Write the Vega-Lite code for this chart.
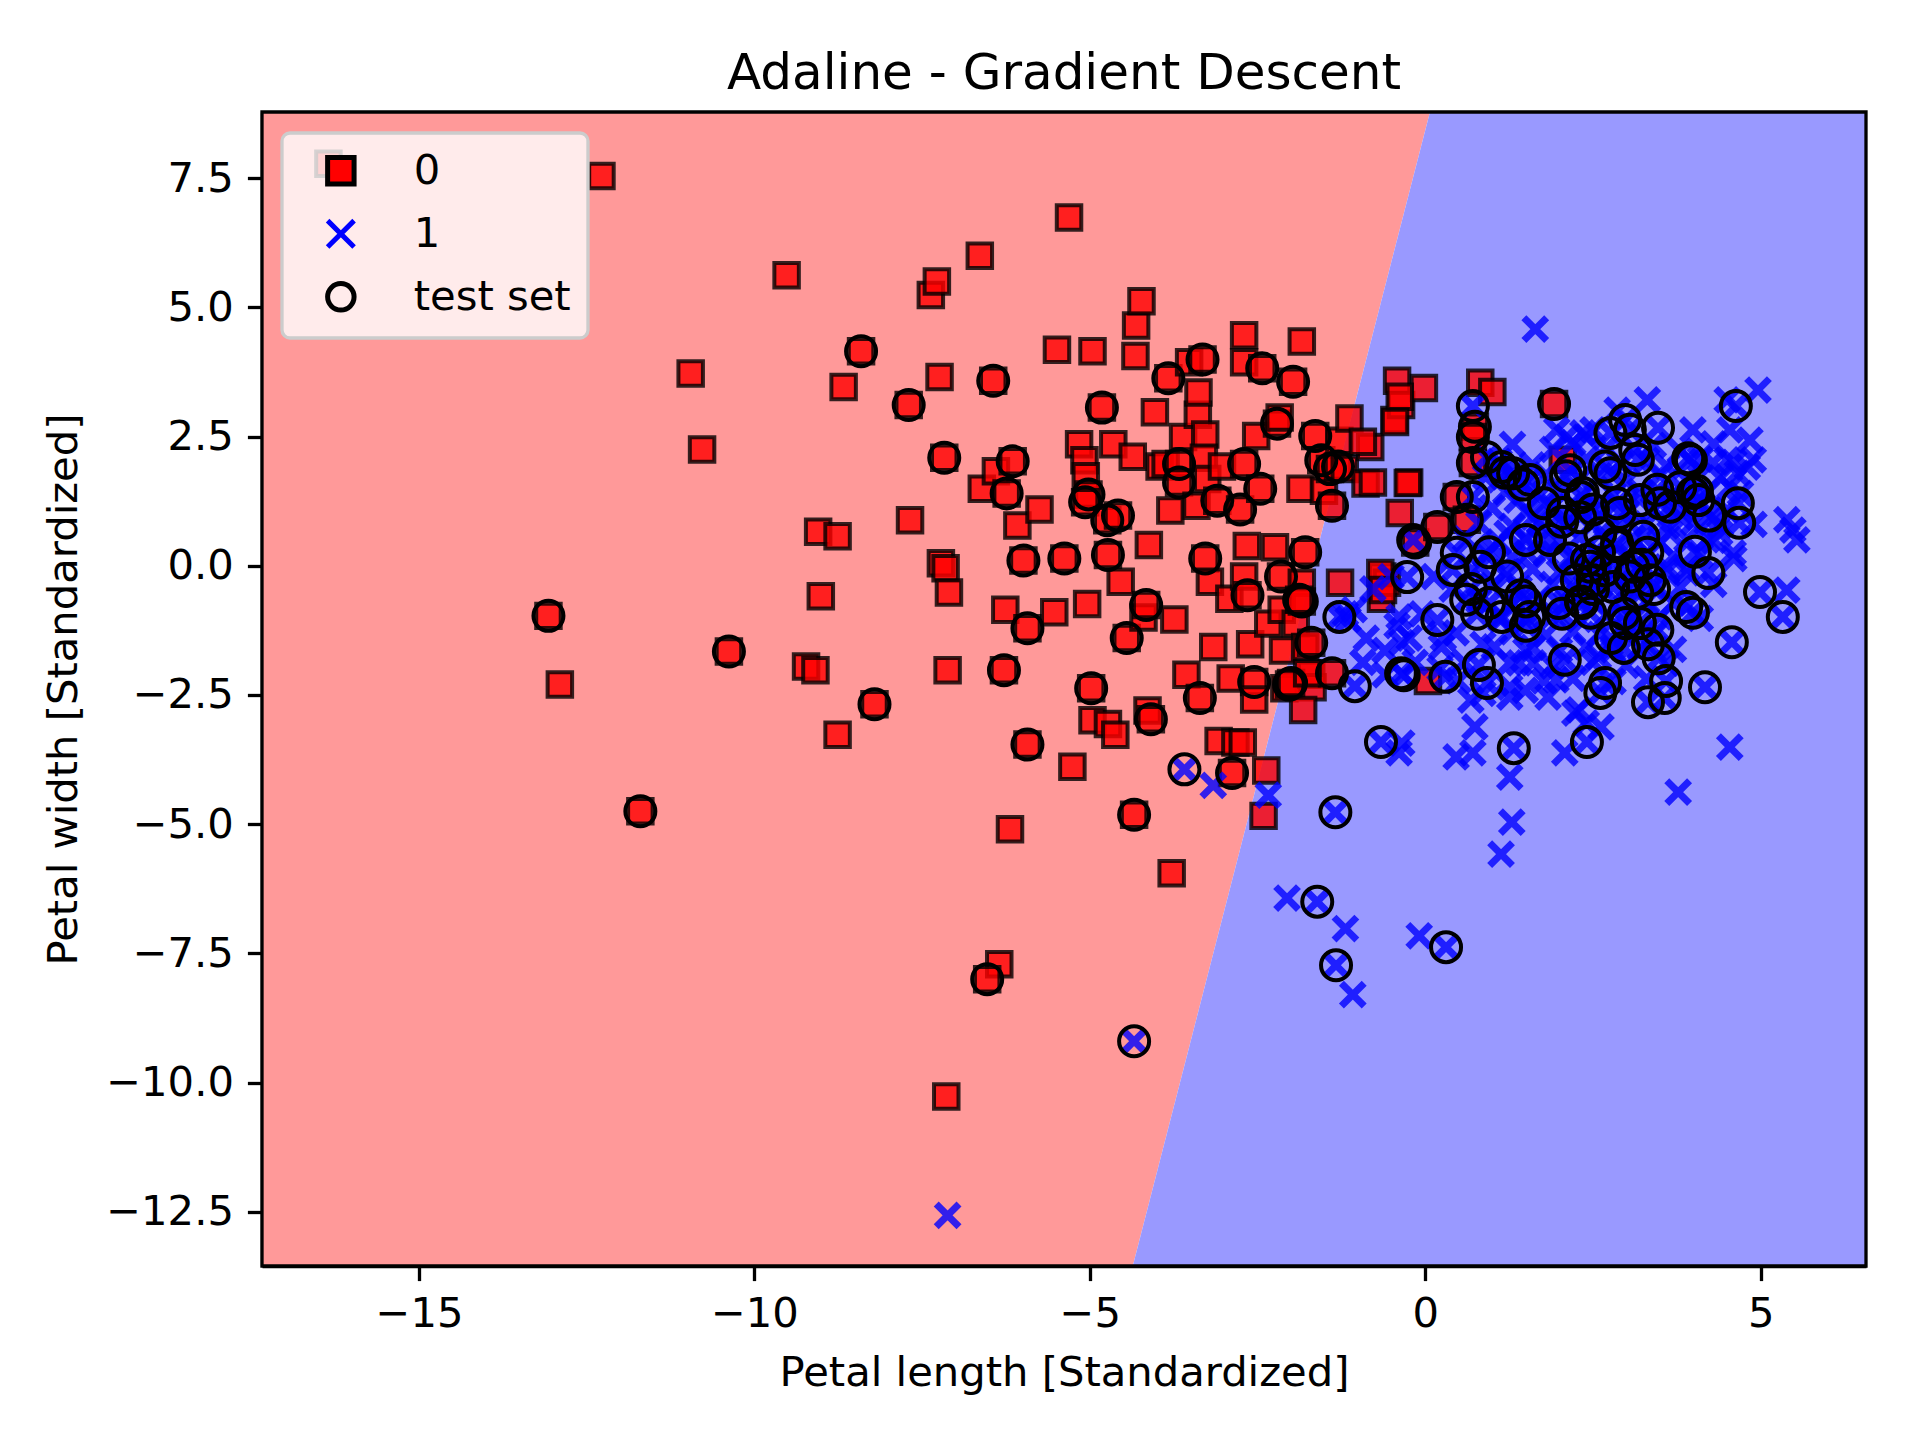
{
  "$schema": "https://vega.github.io/schema/vega-lite/v6.json",
  "width": 1604,
  "height": 1154,
  "autosize": {"type": "none"},
  "padding": {"left": 262, "top": 112, "right": 54, "bottom": 174},
  "background": "white",
  "title": {"text": "Adaline - Gradient Descent", "font": "DejaVu Sans", "fontSize": 50, "fontWeight": "normal", "color": "black", "anchor": "middle", "offset": 11},
  "config": {
    "view": {"stroke": null},
    "axis": {"domainColor": "black", "domainWidth": 3.3, "tickColor": "black", "tickWidth": 3.3, "tickSize": 14.6, "labelFont": "DejaVu Sans", "labelFontSize": 41.7, "labelColor": "black", "titleFont": "DejaVu Sans", "titleFontSize": 41.7, "titleFontWeight": "normal", "titleColor": "black", "grid": false, "zindex": 1},
    "legend": {"orient": "none", "legendX": 20, "legendY": 21, "labelFont": "DejaVu Sans", "labelFontSize": 41.7, "labelColor": "black", "padding": 17, "fillColor": "rgba(255,255,255,0.8)", "strokeColor": "#cccccc", "strokeWidth": 3.3, "cornerRadius": 8, "symbolOffset": 21, "labelOffset": 52, "rowPadding": 15, "symbolSize": 700, "symbolStrokeWidth": 5}
  },
  "datasets": {
    "edge": [{"by": -13.55, "bx": -4.36, "lo": -17.34, "hi": 6.57}, {"by": 8.78, "bx": 0.07, "lo": -17.34, "hi": 6.57}],
    "frame": [{"x0": -17.34, "x1": 6.57, "y0": -13.55, "y1": 8.78}],
    "pts": [
      {"x":-16.35,"y":7.78,"k":"0","t":0},{"x":-12.28,"y":7.54,"k":"0","t":0},{"x":-13.07,"y":-0.97,"k":"0","t":1},{"x":-12.9,"y":-2.3,"k":"0","t":0},
      {"x":-11.7,"y":-4.75,"k":"0","t":1},{"x":-10.95,"y":3.72,"k":"0","t":0},{"x":-10.78,"y":2.25,"k":"0","t":0},{"x":-10.38,"y":-1.66,"k":"0","t":1},
      {"x":-9.52,"y":5.62,"k":"0","t":0},{"x":-9.05,"y":0.66,"k":"0","t":0},{"x":-8.76,"y":0.57,"k":"0","t":0},{"x":-9.01,"y":-0.59,"k":"0","t":0},
      {"x":-9.23,"y":-1.95,"k":"0","t":0},{"x":-9.09,"y":-2.02,"k":"0","t":0},{"x":-8.76,"y":-3.27,"k":"0","t":0},{"x":-8.67,"y":3.46,"k":"0","t":0},
      {"x":-8.41,"y":4.15,"k":"0","t":1},{"x":-8.21,"y":-2.68,"k":"0","t":1},{"x":-7.7,"y":3.11,"k":"0","t":1},{"x":-7.68,"y":0.88,"k":"0","t":0},
      {"x":-7.37,"y":5.24,"k":"0","t":0},{"x":-7.28,"y":5.5,"k":"0","t":0},{"x":-7.24,"y":3.65,"k":"0","t":0},{"x":-7.17,"y":2.09,"k":"0","t":1},
      {"x":-7.22,"y":0.05,"k":"0","t":0},{"x":-7.15,"y":-0.05,"k":"0","t":0},{"x":-7.1,"y":-0.52,"k":"0","t":0},{"x":-7.12,"y":-2.02,"k":"0","t":0},
      {"x":-7.14,"y":-10.27,"k":"0","t":0},{"x":-6.64,"y":6.0,"k":"0","t":0},{"x":-6.44,"y":3.58,"k":"0","t":1},{"x":-6.61,"y":1.49,"k":"0","t":0},
      {"x":-6.4,"y":1.83,"k":"0","t":0},{"x":-6.24,"y":1.4,"k":"0","t":1},{"x":-6.15,"y":2.02,"k":"0","t":1},{"x":-6.08,"y":0.78,"k":"0","t":0},
      {"x":-5.99,"y":0.1,"k":"0","t":1},{"x":-6.26,"y":-0.85,"k":"0","t":0},{"x":-5.93,"y":-1.21,"k":"0","t":1},{"x":-6.28,"y":-2.02,"k":"0","t":1},
      {"x":-5.93,"y":-3.46,"k":"0","t":1},{"x":-6.19,"y":-5.1,"k":"0","t":0},{"x":-6.35,"y":-7.71,"k":"0","t":0},{"x":-6.53,"y":-8.0,"k":"0","t":1},
      {"x":-5.75,"y":1.09,"k":"0","t":0},{"x":-5.53,"y":-0.9,"k":"0","t":0},{"x":-5.38,"y":0.14,"k":"0","t":1},{"x":-5.31,"y":6.74,"k":"0","t":0},
      {"x":-5.49,"y":4.18,"k":"0","t":0},{"x":-5.26,"y":-3.89,"k":"0","t":0},{"x":-5.04,"y":-0.74,"k":"0","t":0},{"x":-4.96,"y":4.15,"k":"0","t":0},
      {"x":-4.98,"y":-2.37,"k":"0","t":1},{"x":-4.96,"y":-2.99,"k":"0","t":0},{"x":-5.16,"y":2.35,"k":"0","t":0},{"x":-5.08,"y":2.04,"k":"0","t":0},
      {"x":-5.06,"y":1.73,"k":"0","t":0},{"x":-5.02,"y":1.38,"k":"0","t":1},{"x":-5.07,"y":1.23,"k":"0","t":1},{"x":-4.82,"y":3.06,"k":"0","t":1},
      {"x":-4.74,"y":0.88,"k":"0","t":1},{"x":-4.73,"y":0.21,"k":"0","t":1},{"x":-4.65,"y":2.35,"k":"0","t":0},{"x":-4.58,"y":0.97,"k":"0","t":1},
      {"x":-4.54,"y":-0.31,"k":"0","t":0},{"x":-4.45,"y":-1.4,"k":"0","t":1},{"x":-4.73,"y":-3.06,"k":"0","t":0},{"x":-4.62,"y":-3.27,"k":"0","t":0},
      {"x":-4.34,"y":-4.82,"k":"0","t":1},{"x":-4.36,"y":2.11,"k":"0","t":0},{"x":-4.32,"y":4.06,"k":"0","t":0},{"x":-4.31,"y":4.65,"k":"0","t":0},
      {"x":-4.23,"y":5.12,"k":"0","t":0},{"x":-4.12,"y":0.4,"k":"0","t":0},{"x":-4.2,"y":-1.0,"k":"0","t":0},{"x":-4.16,"y":-0.76,"k":"0","t":1},
      {"x":-4.14,"y":-2.8,"k":"0","t":0},{"x":-4.09,"y":-2.97,"k":"0","t":1},{"x":-4.03,"y":2.97,"k":"0","t":0},{"x":-3.96,"y":1.92,"k":"0","t":0},
      {"x":-3.87,"y":1.97,"k":"0","t":0},{"x":-3.83,"y":3.63,"k":"0","t":1},{"x":-3.78,"y":-5.95,"k":"0","t":0},{"x":-3.8,"y":1.07,"k":"0","t":0},
      {"x":-3.74,"y":-1.04,"k":"0","t":0},{"x":-3.67,"y":1.97,"k":"0","t":1},{"x":-3.67,"y":1.61,"k":"0","t":1},{"x":-3.61,"y":2.49,"k":"0","t":0},
      {"x":-3.56,"y":-2.11,"k":"0","t":0},{"x":-3.52,"y":3.94,"k":"0","t":0},{"x":-3.41,"y":1.16,"k":"0","t":0},{"x":-3.36,"y":-2.56,"k":"0","t":1},
      {"x":-3.39,"y":2.92,"k":"0","t":0},{"x":-3.38,"y":3.35,"k":"0","t":0},{"x":-3.32,"y":3.99,"k":"0","t":1},{"x":-3.28,"y":2.54,"k":"0","t":0},
      {"x":-3.3,"y":2.09,"k":"0","t":0},{"x":-3.25,"y":1.68,"k":"0","t":0},{"x":-3.28,"y":0.14,"k":"0","t":1},{"x":-3.21,"y":-0.31,"k":"0","t":0},
      {"x":-3.16,"y":-1.57,"k":"0","t":0},{"x":-3.08,"y":-3.39,"k":"0","t":0},{"x":-3.1,"y":1.26,"k":"0","t":1},{"x":-2.88,"y":-4.01,"k":"0","t":1},
      {"x":-3.03,"y":1.92,"k":"0","t":0},{"x":-2.92,"y":-0.64,"k":"0","t":0},{"x":-2.9,"y":-2.18,"k":"0","t":0},{"x":-2.83,"y":-3.42,"k":"0","t":0},
      {"x":-2.72,"y":-3.42,"k":"0","t":0},{"x":-2.76,"y":1.09,"k":"0","t":1},{"x":-2.7,"y":4.46,"k":"0","t":0},{"x":-2.7,"y":3.94,"k":"0","t":0},
      {"x":-2.7,"y":1.97,"k":"0","t":1},{"x":-2.66,"y":0.38,"k":"0","t":0},{"x":-2.7,"y":-0.21,"k":"0","t":0},{"x":-2.65,"y":-0.57,"k":"0","t":1},
      {"x":-2.61,"y":-1.52,"k":"0","t":0},{"x":-2.55,"y":-2.25,"k":"0","t":1},{"x":-2.55,"y":-2.59,"k":"0","t":0},{"x":-2.52,"y":2.51,"k":"0","t":0},
      {"x":-2.46,"y":1.49,"k":"0","t":1},{"x":-2.43,"y":3.82,"k":"0","t":1},{"x":-2.37,"y":-3.96,"k":"0","t":0},{"x":-2.41,"y":-4.84,"k":"0","t":0},
      {"x":-2.34,"y":-1.12,"k":"0","t":0},{"x":-2.24,"y":0.36,"k":"0","t":0},{"x":-2.21,"y":2.75,"k":"0","t":1},{"x":-2.17,"y":2.87,"k":"0","t":0},
      {"x":-2.15,"y":-0.21,"k":"0","t":1},{"x":-2.14,"y":-0.85,"k":"0","t":0},{"x":-2.12,"y":-1.64,"k":"0","t":0},{"x":-2.1,"y":-2.37,"k":"0","t":0},
      {"x":-2.03,"y":-2.3,"k":"0","t":1},{"x":-1.97,"y":3.56,"k":"0","t":1},{"x":-1.93,"y":-1.12,"k":"0","t":0},{"x":-1.84,"y":4.34,"k":"0","t":0},
      {"x":-1.86,"y":1.49,"k":"0","t":0},{"x":-1.79,"y":0.26,"k":"0","t":1},{"x":-1.84,"y":-0.33,"k":"0","t":0},{"x":-1.84,"y":-0.69,"k":"0","t":1},
      {"x":-1.79,"y":-1.57,"k":"0","t":0},{"x":-1.7,"y":-2.11,"k":"0","t":0},{"x":-1.68,"y":-2.35,"k":"0","t":0},{"x":-1.64,"y":2.51,"k":"0","t":1},
      {"x":-1.55,"y":2.04,"k":"0","t":1},{"x":-1.51,"y":1.45,"k":"0","t":0},{"x":-1.42,"y":1.87,"k":"0","t":1},{"x":-1.3,"y":1.92,"k":"0","t":1},
      {"x":-1.39,"y":1.16,"k":"0","t":1},{"x":-1.28,"y":2.42,"k":"0","t":0},{"x":-1.2,"y":1.87,"k":"0","t":0},{"x":-1.13,"y":2.85,"k":"0","t":0},
      {"x":-0.82,"y":2.3,"k":"0","t":0},{"x":-0.93,"y":2.4,"k":"0","t":0},{"x":-0.89,"y":1.59,"k":"0","t":0},{"x":-0.78,"y":1.61,"k":"0","t":0},
      {"x":-0.64,"y":-0.21,"k":"0","t":0},{"x":-0.66,"y":-0.64,"k":"0","t":0},{"x":-0.57,"y":-0.33,"k":"0","t":0},{"x":-0.46,"y":2.82,"k":"0","t":0},
      {"x":-0.42,"y":3.58,"k":"0","t":0},{"x":-0.36,"y":3.11,"k":"0","t":0},{"x":-0.38,"y":1.02,"k":"0","t":0},{"x":-0.24,"y":1.61,"k":"0","t":0},
      {"x":-0.15,"y":0.45,"k":"0","t":1},{"x":-0.02,"y":3.44,"k":"0","t":0},{"x":0.04,"y":-2.23,"k":"0","t":0},{"x":0.82,"y":3.54,"k":"0","t":0},
      {"x":1.0,"y":3.36,"k":"0","t":0},{"x":0.74,"y":2.69,"k":"0","t":1},{"x":0.71,"y":2.49,"k":"0","t":1},{"x":0.71,"y":1.99,"k":"0","t":1},
      {"x":-0.38,"y":3.27,"k":"0","t":0},{"x":-0.45,"y":2.78,"k":"0","t":0},{"x":-0.26,"y":1.6,"k":"0","t":0},{"x":0.18,"y":0.75,"k":"0","t":1},
      {"x":0.47,"y":1.33,"k":"0","t":1},{"x":0.62,"y":0.89,"k":"0","t":1},{"x":-1.27,"y":-0.33,"k":"0","t":0},{"x":-0.67,"y":-0.14,"k":"0","t":0},
      {"x":-0.63,"y":-0.47,"k":"0","t":0},{"x":2.05,"y":2.05,"k":"0","t":0},{"x":1.92,"y":3.13,"k":"0","t":1},{"x":-1.88,"y":-0.66,"k":"0","t":1},
      {"x":-1.7,"y":-1.49,"k":"0","t":1},{"x":-1.39,"y":-2.08,"k":"0","t":1},{"x":-2.0,"y":-2.27,"k":"0","t":1},{"x":-1.82,"y":-2.79,"k":"0","t":0},
      {"x":-1.76,"y":-2.08,"k":"0","t":0},

      {"x":-7.12,"y":-12.57,"k":"1","t":0},{"x":-4.34,"y":-9.2,"k":"1","t":1},{"x":-3.59,"y":-3.94,"k":"1","t":1},{"x":-3.16,"y":-4.25,"k":"1","t":0},
      {"x":-2.34,"y":-4.44,"k":"1","t":0},{"x":-2.06,"y":-6.43,"k":"1","t":0},{"x":-1.61,"y":-6.5,"k":"1","t":1},{"x":-1.19,"y":-7.02,"k":"1","t":0},
      {"x":-1.33,"y":-7.73,"k":"1","t":1},{"x":-1.08,"y":-8.3,"k":"1","t":0},{"x":-0.09,"y":-7.16,"k":"1","t":0},{"x":0.31,"y":-7.38,"k":"1","t":1},
      {"x":-1.34,"y":-4.77,"k":"1","t":1},{"x":-0.66,"y":-3.41,"k":"1","t":1},{"x":-0.39,"y":-3.62,"k":"1","t":0},{"x":-0.35,"y":-3.43,"k":"1","t":0},
      {"x":0.46,"y":-3.7,"k":"1","t":0},{"x":0.71,"y":-3.62,"k":"1","t":0},{"x":0.74,"y":-3.12,"k":"1","t":0},{"x":1.32,"y":-3.53,"k":"1","t":1},
      {"x":1.26,"y":-4.09,"k":"1","t":0},{"x":1.29,"y":-4.96,"k":"1","t":0},{"x":1.13,"y":-5.58,"k":"1","t":0},{"x":2.08,"y":-3.62,"k":"1","t":0},
      {"x":2.41,"y":-3.41,"k":"1","t":1},{"x":2.4,"y":-3.04,"k":"1","t":0},{"x":2.62,"y":-3.12,"k":"1","t":0},{"x":2.23,"y":-2.85,"k":"1","t":0},
      {"x":3.77,"y":-4.38,"k":"1","t":0},{"x":4.54,"y":-3.51,"k":"1","t":0},{"x":1.64,"y":4.58,"k":"1","t":0},{"x":4.96,"y":3.4,"k":"1","t":0},
      {"x":4.63,"y":3.09,"k":"1","t":1},{"x":4.5,"y":3.21,"k":"1","t":0},{"x":4.54,"y":2.63,"k":"1","t":0},{"x":3.31,"y":3.21,"k":"1","t":0},
      {"x":2.98,"y":2.82,"k":"1","t":1},{"x":2.76,"y":2.57,"k":"1","t":1},{"x":3.47,"y":2.67,"k":"1","t":1},{"x":2.86,"y":3.01,"k":"1","t":0},
      {"x":3.99,"y":2.63,"k":"1","t":0},{"x":2.41,"y":2.49,"k":"1","t":0},{"x":4.84,"y":2.43,"k":"1","t":0},{"x":4.89,"y":2.05,"k":"1","t":0},
      {"x":4.5,"y":2.05,"k":"1","t":0},{"x":3.92,"y":2.08,"k":"1","t":1},{"x":4.29,"y":1.99,"k":"1","t":0},{"x":4.65,"y":1.79,"k":"1","t":0},
      {"x":4.54,"y":1.52,"k":"1","t":0},{"x":4.8,"y":1.91,"k":"1","t":0},{"x":3.13,"y":2.24,"k":"1","t":1},{"x":3.17,"y":2.05,"k":"1","t":1},
      {"x":2.76,"y":1.79,"k":"1","t":1},{"x":3.8,"y":1.52,"k":"1","t":1},{"x":3.99,"y":1.41,"k":"1","t":1},{"x":4.07,"y":1.27,"k":"1","t":1},
      {"x":4.66,"y":1.21,"k":"1","t":1},{"x":4.68,"y":0.83,"k":"1","t":1},{"x":5.48,"y":0.69,"k":"1","t":0},{"x":5.39,"y":0.89,"k":"1","t":0},
      {"x":5.54,"y":0.5,"k":"1","t":0},{"x":4.02,"y":0.27,"k":"1","t":1},{"x":4.22,"y":-0.14,"k":"1","t":1},{"x":4.99,"y":-0.51,"k":"1","t":1},
      {"x":5.39,"y":-0.47,"k":"1","t":0},{"x":4.39,"y":0.63,"k":"1","t":0},{"x":4.59,"y":0.25,"k":"1","t":0},{"x":4.29,"y":0.94,"k":"1","t":0},
      {"x":4.2,"y":0.5,"k":"1","t":0},{"x":3.8,"y":0.94,"k":"1","t":0},{"x":3.65,"y":0.63,"k":"1","t":0},{"x":3.6,"y":-0.02,"k":"1","t":0},
      {"x":3.9,"y":-0.14,"k":"1","t":0},{"x":3.2,"y":1.27,"k":"1","t":1},{"x":3.46,"y":1.47,"k":"1","t":1},{"x":3.65,"y":1.14,"k":"1","t":1},
      {"x":2.9,"y":1.02,"k":"1","t":1},{"x":2.61,"y":0.63,"k":"1","t":1},{"x":2.86,"y":0.44,"k":"1","t":1},{"x":3.25,"y":0.56,"k":"1","t":1},
      {"x":3.31,"y":0.25,"k":"1","t":1},{"x":2.41,"y":0.11,"k":"1","t":1},{"x":3.1,"y":-0.02,"k":"1","t":1},{"x":3.35,"y":-0.28,"k":"1","t":1},
      {"x":2.8,"y":-0.41,"k":"1","t":1},{"x":3.16,"y":-0.53,"k":"1","t":1},{"x":2.5,"y":-0.28,"k":"1","t":1},
      {"x":1.96,"y":2.63,"k":"1","t":0},{"x":2.11,"y":2.49,"k":"1","t":0},{"x":2.35,"y":2.57,"k":"1","t":0},{"x":2.5,"y":2.63,"k":"1","t":0},
      {"x":1.11,"y":1.66,"k":"1","t":0},{"x":1.37,"y":1.27,"k":"1","t":0},{"x":1.61,"y":0.94,"k":"1","t":0},{"x":1.22,"y":0.63,"k":"1","t":0},
      {"x":1.01,"y":0.36,"k":"1","t":0},{"x":1.52,"y":0.25,"k":"1","t":0},{"x":1.71,"y":0.5,"k":"1","t":0},
      {"x":0.71,"y":3.09,"k":"1","t":1},{"x":0.92,"y":2.1,"k":"1","t":1},{"x":1.14,"y":1.91,"k":"1","t":1},{"x":1.31,"y":1.79,"k":"1","t":1},
      {"x":1.56,"y":1.66,"k":"1","t":1},{"x":-0.18,"y":0.5,"k":"1","t":1},{"x":0.71,"y":1.33,"k":"1","t":1},{"x":0.47,"y":0.25,"k":"1","t":1},
      {"x":0.41,"y":-0.08,"k":"1","t":1},{"x":0.82,"y":-0.02,"k":"1","t":1},{"x":-0.27,"y":-0.22,"k":"1","t":1},{"x":2.16,"y":1.85,"k":"1","t":1},
      {"x":2.35,"y":1.41,"k":"1","t":1},{"x":2.05,"y":1.02,"k":"1","t":1},{"x":2.31,"y":0.94,"k":"1","t":1},{"x":2.46,"y":-0.02,"k":"1","t":1},
      {"x":2.26,"y":-0.28,"k":"1","t":1},
      {"x":-1.28,"y":-0.99,"k":"1","t":1},{"x":0.18,"y":-1.05,"k":"1","t":1},{"x":0.61,"y":-0.66,"k":"1","t":1},{"x":0.95,"y":-0.72,"k":"1","t":1},
      {"x":1.14,"y":-0.99,"k":"1","t":1},{"x":1.43,"y":-0.57,"k":"1","t":1},{"x":1.55,"y":-0.99,"k":"1","t":1},{"x":1.99,"y":-0.72,"k":"1","t":1},
      {"x":2.34,"y":-0.72,"k":"1","t":1},{"x":2.46,"y":-0.91,"k":"1","t":1},{"x":2.99,"y":-1.11,"k":"1","t":1},{"x":3.2,"y":-1.11,"k":"1","t":1},
      {"x":3.46,"y":-1.24,"k":"1","t":1},{"x":2.96,"y":-1.59,"k":"1","t":1},{"x":3.48,"y":-1.79,"k":"1","t":1},{"x":3.89,"y":-0.8,"k":"1","t":1},
      {"x":3.99,"y":-0.91,"k":"1","t":1},{"x":5.33,"y":-0.99,"k":"1","t":1},{"x":4.57,"y":-1.48,"k":"1","t":1},{"x":4.17,"y":-2.35,"k":"1","t":1},
      {"x":3.57,"y":-2.56,"k":"1","t":1},{"x":3.32,"y":-2.64,"k":"1","t":1},{"x":2.68,"y":-2.27,"k":"1","t":1},{"x":2.61,"y":-2.46,"k":"1","t":1},
      {"x":2.08,"y":-1.82,"k":"1","t":1},{"x":0.92,"y":-2.27,"k":"1","t":1},{"x":0.8,"y":-1.92,"k":"1","t":1},{"x":0.3,"y":-2.15,"k":"1","t":1},
      {"x":-0.36,"y":-2.08,"k":"1","t":1},{"x":-0.32,"y":-2.12,"k":"1","t":1},{"x":-1.05,"y":-2.33,"k":"1","t":1},
      {"x":-0.39,"y":-0.99,"k":"1","t":0},{"x":-0.35,"y":-1.49,"k":"1","t":0},{"x":0.24,"y":-1.57,"k":"1","t":0},{"x":0.46,"y":-1.3,"k":"1","t":0},
      {"x":1.03,"y":-1.57,"k":"1","t":0},{"x":1.26,"y":-2.54,"k":"1","t":0},{"x":1.49,"y":-2.41,"k":"1","t":0},{"x":1.83,"y":-2.54,"k":"1","t":0},
      {"x":1.95,"y":-2.21,"k":"1","t":0},{"x":2.29,"y":-2.79,"k":"1","t":0},{"x":1.61,"y":-1.88,"k":"1","t":0},{"x":1.26,"y":-1.88,"k":"1","t":0},
      {"x":0.68,"y":-2.6,"k":"1","t":0},{"x":2.58,"y":-1.76,"k":"1","t":0},{"x":2.8,"y":-1.57,"k":"1","t":0},
      {"x":-1.19,"y":-0.93,"k":"1","t":0},{"x":-1.06,"y":-0.85,"k":"1","t":0},{"x":-0.78,"y":-0.45,"k":"1","t":0},{"x":-0.51,"y":-0.21,"k":"1","t":0},
      {"x":-0.42,"y":-1.16,"k":"1","t":0},{"x":-0.24,"y":-1.4,"k":"1","t":0},{"x":-0.05,"y":-0.93,"k":"1","t":0},{"x":-0.6,"y":-1.64,"k":"1","t":0},
      {"x":-0.88,"y":-1.4,"k":"1","t":0},{"x":0.13,"y":-0.21,"k":"1","t":0},{"x":0.4,"y":-0.45,"k":"1","t":0},{"x":0.27,"y":-1.4,"k":"1","t":0},
      {"x":0.58,"y":-1.87,"k":"1","t":0},{"x":0.86,"y":-1.52,"k":"1","t":0},{"x":1.13,"y":-1.04,"k":"1","t":0},{"x":1.5,"y":-1.64,"k":"1","t":0},
      {"x":1.77,"y":-2.23,"k":"1","t":0},{"x":1.26,"y":-2.35,"k":"1","t":0},{"x":0.86,"y":-2.47,"k":"1","t":0},{"x":0.49,"y":-2.23,"k":"1","t":0},
      {"x":0.22,"y":-1.99,"k":"1","t":0},{"x":-0.15,"y":-1.87,"k":"1","t":0},{"x":-0.6,"y":-2.11,"k":"1","t":0},{"x":-0.93,"y":-1.87,"k":"1","t":0},
      {"x":-1.15,"y":-1.04,"k":"1","t":0},
      {"x":1.19,"y":1.8,"k":"1","t":1},{"x":1.46,"y":1.57,"k":"1","t":1},{"x":2.1,"y":1.73,"k":"1","t":1},{"x":2.32,"y":1.33,"k":"1","t":1},
      {"x":1.86,"y":0.5,"k":"1","t":1},{"x":2.14,"y":0.14,"k":"1","t":1},{"x":2.32,"y":-0.69,"k":"1","t":1},{"x":1.5,"y":-0.69,"k":"1","t":1},
      {"x":2.04,"y":-0.93,"k":"1","t":1},{"x":1.22,"y":-0.21,"k":"1","t":1},{"x":1.5,"y":0.5,"k":"1","t":1},{"x":1.77,"y":1.21,"k":"1","t":1},
      {"x":0.95,"y":0.26,"k":"1","t":1},{"x":0.68,"y":-0.45,"k":"1","t":1},{"x":0.77,"y":-0.93,"k":"1","t":1},{"x":1.5,"y":-1.16,"k":"1","t":1},
      {"x":2.04,"y":0.85,"k":"1","t":1},{"x":2.5,"y":1.09,"k":"1","t":1},{"x":2.68,"y":1.92,"k":"1","t":1},{"x":2.86,"y":1.21,"k":"1","t":1},
      {"x":3.05,"y":2.63,"k":"1","t":1},{"x":3.5,"y":1.21,"k":"1","t":1},{"x":3.96,"y":2.04,"k":"1","t":1},{"x":4.05,"y":1.45,"k":"1","t":1},
      {"x":4.23,"y":0.97,"k":"1","t":1},{"x":2.59,"y":0.26,"k":"1","t":1},{"x":2.86,"y":0.38,"k":"1","t":1},{"x":2.68,"y":-0.09,"k":"1","t":1},
      {"x":2.5,"y":-0.45,"k":"1","t":1},{"x":3.05,"y":-0.21,"k":"1","t":1},{"x":3.23,"y":0.02,"k":"1","t":1},{"x":3.41,"y":-0.45,"k":"1","t":1},
      {"x":2.96,"y":-0.93,"k":"1","t":1},{"x":2.77,"y":-1.4,"k":"1","t":1},{"x":3.32,"y":-1.52,"k":"1","t":1},{"x":3.59,"y":-2.23,"k":"1","t":1},
      {"x":1.3,"y":2.35,"k":"1","t":0},{"x":1.9,"y":2.25,"k":"1","t":0},{"x":2.2,"y":2.38,"k":"1","t":0},{"x":2.7,"y":2.28,"k":"1","t":0},
      {"x":3.4,"y":2.33,"k":"1","t":0},{"x":3.8,"y":2.22,"k":"1","t":0},{"x":4.3,"y":2.36,"k":"1","t":0},
      {"x":1.1,"y":2.02,"k":"1","t":0},{"x":1.6,"y":1.95,"k":"1","t":0},{"x":2.4,"y":2.07,"k":"1","t":0},{"x":2.9,"y":1.98,"k":"1","t":0},
      {"x":3.3,"y":2.04,"k":"1","t":0},{"x":3.6,"y":1.93,"k":"1","t":0},{"x":4.1,"y":2.06,"k":"1","t":0},{"x":4.6,"y":2.0,"k":"1","t":0},
      {"x":0.9,"y":1.72,"k":"1","t":0},{"x":1.4,"y":1.65,"k":"1","t":0},{"x":1.8,"y":1.76,"k":"1","t":0},{"x":2.3,"y":1.68,"k":"1","t":0},
      {"x":2.6,"y":1.74,"k":"1","t":0},{"x":3.0,"y":1.63,"k":"1","t":0},{"x":3.5,"y":1.75,"k":"1","t":0},{"x":3.9,"y":1.66,"k":"1","t":0},
      {"x":4.4,"y":1.7,"k":"1","t":0},
      {"x":1.2,"y":1.43,"k":"1","t":0},{"x":1.7,"y":1.36,"k":"1","t":0},{"x":2.0,"y":1.45,"k":"1","t":0},{"x":2.8,"y":1.38,"k":"1","t":0},
      {"x":3.2,"y":1.44,"k":"1","t":0},{"x":3.7,"y":1.35,"k":"1","t":0},{"x":4.2,"y":1.42,"k":"1","t":0},{"x":4.7,"y":1.4,"k":"1","t":0},
      {"x":1.0,"y":1.12,"k":"1","t":0},{"x":1.5,"y":1.05,"k":"1","t":0},{"x":1.9,"y":1.14,"k":"1","t":0},{"x":2.3,"y":1.07,"k":"1","t":0},
      {"x":2.6,"y":1.13,"k":"1","t":0},{"x":3.0,"y":1.04,"k":"1","t":0},{"x":3.4,"y":1.1,"k":"1","t":0},{"x":3.8,"y":1.06,"k":"1","t":0},
      {"x":4.1,"y":1.15,"k":"1","t":0},{"x":4.5,"y":1.08,"k":"1","t":0},
      {"x":0.8,"y":0.82,"k":"1","t":0},{"x":1.3,"y":0.76,"k":"1","t":0},{"x":1.7,"y":0.85,"k":"1","t":0},{"x":2.1,"y":0.78,"k":"1","t":0},
      {"x":2.5,"y":0.83,"k":"1","t":0},{"x":2.9,"y":0.75,"k":"1","t":0},{"x":3.3,"y":0.81,"k":"1","t":0},{"x":3.6,"y":0.77,"k":"1","t":0},
      {"x":4.0,"y":0.84,"k":"1","t":0},{"x":4.4,"y":0.79,"k":"1","t":0},{"x":4.9,"y":0.8,"k":"1","t":0},
      {"x":0.6,"y":0.52,"k":"1","t":0},{"x":1.1,"y":0.46,"k":"1","t":0},{"x":1.5,"y":0.54,"k":"1","t":0},{"x":2.0,"y":0.47,"k":"1","t":0},
      {"x":2.3,"y":0.55,"k":"1","t":0},{"x":2.7,"y":0.48,"k":"1","t":0},{"x":3.1,"y":0.53,"k":"1","t":0},{"x":3.5,"y":0.45,"k":"1","t":0},
      {"x":3.9,"y":0.51,"k":"1","t":0},{"x":4.3,"y":0.49,"k":"1","t":0},
      {"x":0.9,"y":0.22,"k":"1","t":0},{"x":1.3,"y":0.16,"k":"1","t":0},{"x":1.8,"y":0.24,"k":"1","t":0},{"x":2.2,"y":0.17,"k":"1","t":0},
      {"x":2.6,"y":0.21,"k":"1","t":0},{"x":3.0,"y":0.15,"k":"1","t":0},{"x":3.3,"y":0.23,"k":"1","t":0},{"x":3.7,"y":0.18,"k":"1","t":0},
      {"x":4.1,"y":0.2,"k":"1","t":0},{"x":4.6,"y":0.14,"k":"1","t":0},
      {"x":0.7,"y":-0.08,"k":"1","t":0},{"x":1.2,"y":-0.13,"k":"1","t":0},{"x":1.6,"y":-0.06,"k":"1","t":0},{"x":2.0,"y":-0.12,"k":"1","t":0},
      {"x":2.4,"y":-0.07,"k":"1","t":0},{"x":2.8,"y":-0.14,"k":"1","t":0},{"x":3.2,"y":-0.09,"k":"1","t":0},{"x":3.6,"y":-0.11,"k":"1","t":0},
      {"x":3.9,"y":-0.05,"k":"1","t":0},
      {"x":1.0,"y":-0.38,"k":"1","t":0},{"x":1.4,"y":-0.44,"k":"1","t":0},{"x":1.9,"y":-0.36,"k":"1","t":0},{"x":2.2,"y":-0.43,"k":"1","t":0},
      {"x":2.6,"y":-0.37,"k":"1","t":0},{"x":3.0,"y":-0.45,"k":"1","t":0},{"x":3.4,"y":-0.39,"k":"1","t":0},{"x":3.8,"y":-0.42,"k":"1","t":0},
      {"x":4.3,"y":-0.36,"k":"1","t":0},
      {"x":0.8,"y":-0.68,"k":"1","t":0},{"x":1.3,"y":-0.74,"k":"1","t":0},{"x":1.7,"y":-0.66,"k":"1","t":0},{"x":2.1,"y":-0.73,"k":"1","t":0},
      {"x":2.5,"y":-0.67,"k":"1","t":0},{"x":2.9,"y":-0.75,"k":"1","t":0},{"x":3.3,"y":-0.69,"k":"1","t":0},{"x":3.7,"y":-0.72,"k":"1","t":0},
      {"x":1.1,"y":-0.98,"k":"1","t":0},{"x":1.5,"y":-1.05,"k":"1","t":0},{"x":1.9,"y":-0.97,"k":"1","t":0},{"x":2.3,"y":-1.04,"k":"1","t":0},
      {"x":2.7,"y":-0.96,"k":"1","t":0},{"x":3.1,"y":-1.03,"k":"1","t":0},{"x":3.5,"y":-0.99,"k":"1","t":0},{"x":4.1,"y":-1.02,"k":"1","t":0},
      {"x":1.3,"y":-1.28,"k":"1","t":0},{"x":1.8,"y":-1.34,"k":"1","t":0},{"x":2.2,"y":-1.27,"k":"1","t":0},{"x":2.6,"y":-1.33,"k":"1","t":0},
      {"x":3.0,"y":-1.29,"k":"1","t":0},{"x":3.4,"y":-1.35,"k":"1","t":0},
      {"x":1.6,"y":-1.58,"k":"1","t":0},{"x":2.0,"y":-1.64,"k":"1","t":0},{"x":2.4,"y":-1.57,"k":"1","t":0},{"x":2.8,"y":-1.63,"k":"1","t":0},
      {"x":3.2,"y":-1.59,"k":"1","t":0},{"x":3.7,"y":-1.62,"k":"1","t":0},
      {"x":1.4,"y":-1.88,"k":"1","t":0},{"x":1.9,"y":-1.94,"k":"1","t":0},{"x":2.5,"y":-1.87,"k":"1","t":0},{"x":3.0,"y":-1.93,"k":"1","t":0},
      {"x":3.6,"y":-1.89,"k":"1","t":0},
      {"x":2.2,"y":-2.18,"k":"1","t":0},{"x":2.8,"y":-2.24,"k":"1","t":0},{"x":3.3,"y":-2.19,"k":"1","t":0}
    ]
  },
  "layer": [
    {
      "data": {"name": "edge"},
      "mark": {"type": "area", "orient": "horizontal", "color": "#ff9999", "clip": true},
      "encoding": {
        "y": {"field": "by", "type": "quantitative", "scale": {"domain": [-13.55, 8.78], "nice": false, "zero": false},
              "axis": {"title": "Petal width [Standardized]", "values": [7.5, 5, 2.5, 0, -2.5, -5, -7.5, -10, -12.5], "format": ".1f", "labelPadding": 14, "titlePadding": 20}},
        "x": {"field": "lo", "type": "quantitative", "scale": {"domain": [-17.34, 6.57], "nice": false, "zero": false},
              "axis": {"title": "Petal length [Standardized]", "values": [-15, -10, -5, 0, 5], "format": "d", "labelPadding": 13, "titlePadding": 17}},
        "x2": {"field": "bx"}
      }
    },
    {
      "data": {"name": "edge"},
      "mark": {"type": "area", "orient": "horizontal", "color": "#9999ff", "clip": true},
      "encoding": {
        "y": {"field": "by", "type": "quantitative"},
        "x": {"field": "bx", "type": "quantitative"},
        "x2": {"field": "hi"}
      }
    },
    {
      "data": {"name": "pts"},
      "transform": [{"filter": "datum.k == '0'"}],
      "mark": {"type": "point", "filled": true, "size": 600, "strokeWidth": 4, "opacity": 1, "fillOpacity": 0.8, "strokeOpacity": 0.8},
      "encoding": {
        "x": {"field": "x", "type": "quantitative"},
        "y": {"field": "y", "type": "quantitative"},
        "shape": {"field": "k", "type": "nominal", "scale": {"domain": ["0", "1", "test set"], "range": ["square", "M-1,-1L1,1M-1,1L1,-1", "circle"]}, "legend": {"title": null}},
        "fill": {"field": "k", "type": "nominal", "scale": {"domain": ["0", "1", "test set"], "range": ["#ff0000", "transparent", "transparent"]}, "legend": {"title": null}},
        "stroke": {"field": "k", "type": "nominal", "scale": {"domain": ["0", "1", "test set"], "range": ["#000000", "#0000ff", "#000000"]}, "legend": {"title": null}}
      }
    },
    {
      "data": {"name": "pts"},
      "transform": [{"filter": "datum.k == '1'"}],
      "mark": {"type": "point", "filled": true, "size": 520, "strokeWidth": 7, "opacity": 1, "strokeOpacity": 0.8},
      "encoding": {
        "x": {"field": "x", "type": "quantitative"},
        "y": {"field": "y", "type": "quantitative"},
        "shape": {"field": "k", "type": "nominal", "legend": {"title": null}},
        "fill": {"field": "k", "type": "nominal", "legend": {"title": null}},
        "stroke": {"field": "k", "type": "nominal", "legend": {"title": null}}
      }
    },
    {
      "data": {"name": "pts"},
      "transform": [{"filter": "datum.t == 1"}, {"calculate": "'test set'", "as": "k"}],
      "mark": {"type": "point", "filled": true, "size": 900, "strokeWidth": 4, "opacity": 1},
      "encoding": {
        "x": {"field": "x", "type": "quantitative"},
        "y": {"field": "y", "type": "quantitative"},
        "shape": {"field": "k", "type": "nominal", "legend": {"title": null}},
        "fill": {"field": "k", "type": "nominal", "legend": {"title": null}},
        "stroke": {"field": "k", "type": "nominal", "legend": {"title": null}}
      }
    },
    {
      "data": {"name": "frame"},
      "mark": {"type": "rect", "fillOpacity": 0, "stroke": "black", "strokeWidth": 3.3},
      "encoding": {
        "x": {"field": "x0", "type": "quantitative"},
        "x2": {"field": "x1"},
        "y": {"field": "y0", "type": "quantitative"},
        "y2": {"field": "y1"}
      }
    }
  ]
}
